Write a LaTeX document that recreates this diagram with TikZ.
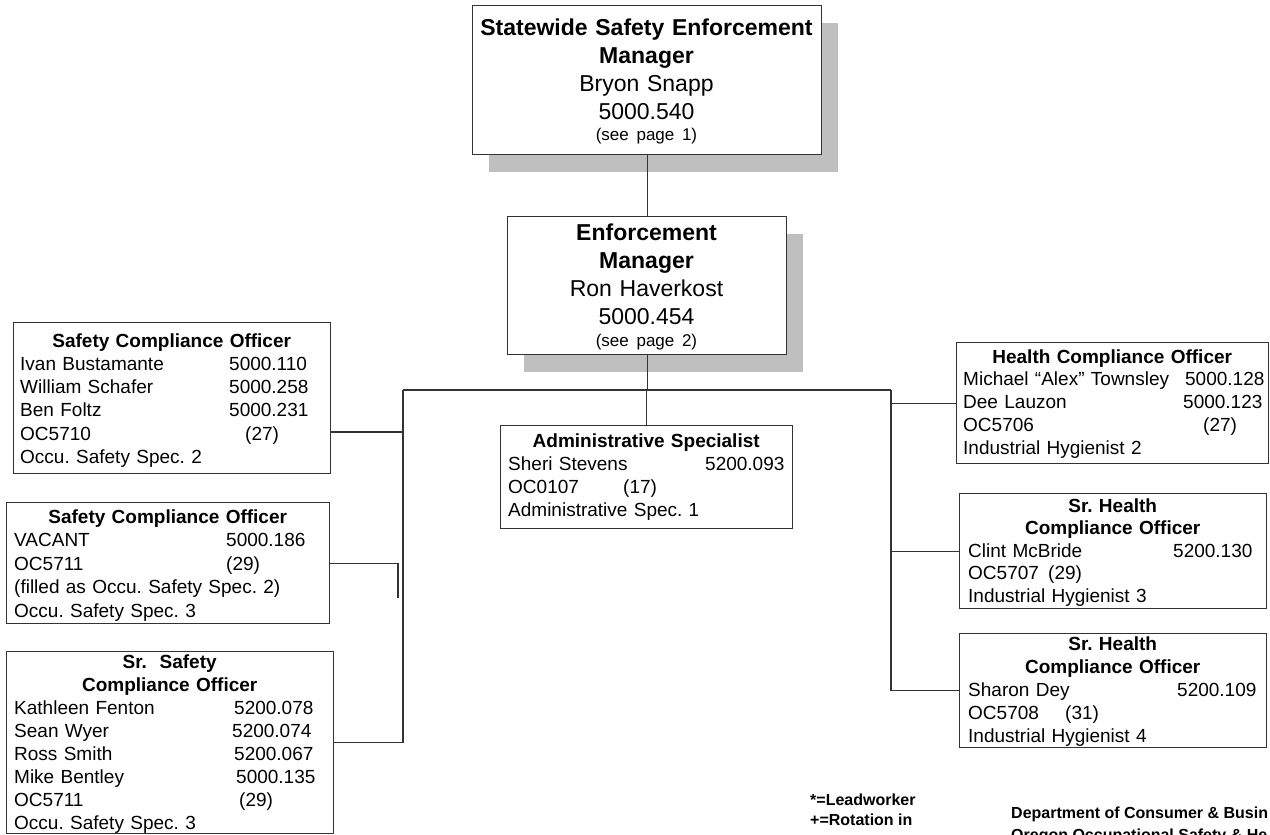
\documentclass[tikz,border=0pt]{standalone}
\usepackage{fontspec}
\setmainfont{Liberation Sans}
\usetikzlibrary{shadows}
\frenchspacing

% heading line centred across the text block
\newcommand\hd[1]{\makebox[\linewidth]{\bfseries #1}}
% name followed by a number set at a fixed column
\newcommand\pr[3]{\makebox[#1pt][l]{#2}#3}

\tikzset{
  orgbox/.style={draw=black!80, line width=1.3pt, fill=white, inner sep=0pt,
                 anchor=north west},
  raised/.style={drop shadow={shadow xshift=16pt, shadow yshift=-17pt,
                 fill=black!25, opacity=1}},
  link/.style={draw=black!80, line width=1.3pt},
  body/.style={anchor=base west, inner sep=0pt, align=left},
  title/.style={anchor=base, inner sep=0pt, align=center,
                font=\fontsize{23}{28}\selectfont},
  note/.style={anchor=base west, inner sep=0pt, font=\bfseries\fontsize{16}{21}\selectfont},
}

\begin{document}
\begin{tikzpicture}[x=1pt, y=-1pt]
\useasboundingbox (0,0) rectangle (1270,835);
\clip (0,0) rectangle (1270,835);

% ---- managers ----
\node[orgbox, raised, minimum width=349pt, minimum height=149pt] (stw) at (472,5) {};
\node[title, text width=340pt] (stwt) at (646.5,35)
  {{\bfseries Statewide Safety Enforcement}\\ {\bfseries Manager}\\ Bryon Snapp\\ 5000.540\\[-7pt]
   {\fontsize{17}{21}\selectfont (see page 1)}};

\node[orgbox, raised, minimum width=279pt, minimum height=138pt] (enf) at (507,216) {};
\node[title, text width=270pt] (enft) at (646.5,240)
  {{\bfseries Enforcement}\\ {\bfseries Manager}\\ Ron Haverkost\\ 5000.454\\[-6pt]
   {\fontsize{17}{21}\selectfont (see page 2)}};

% ---- left side ----
\node[orgbox, minimum width=317pt, minimum height=151pt] (sco1) at (13,322) {};
\node[body, text width=303pt, font=\fontsize{19}{23.3}\selectfont] (sco1t) at (20,347)
  {\hd{Safety Compliance Officer}\\
   \pr{209}{Ivan Bustamante}{5000.110}\\
   \pr{209}{William Schafer}{5000.258}\\
   \pr{209}{Ben Foltz}{5000.231}\\
   \pr{225}{OC5710}{(27)}\\
   Occu. Safety Spec. 2};

\node[orgbox, minimum width=323pt, minimum height=121pt] (vac) at (6,502) {};
\node[body, text width=307pt, font=\fontsize{19}{23.5}\selectfont] (vact) at (14,523)
  {\hd{Safety Compliance Officer}\\
   \pr{212}{VACANT}{5000.186}\\
   \pr{212}{OC5711}{(29)}\\
   (filled as Occu. Safety Spec. 2)\\
   Occu. Safety Spec. 3};

\node[orgbox, minimum width=327pt, minimum height=182pt] (srs) at (6,651) {};
\node[body, text width=311pt, font=\fontsize{19}{23}\selectfont] (srst) at (14,668)
  {\hd{Sr.\ \ Safety}\\
   \hd{Compliance Officer}\\
   \pr{220}{Kathleen Fenton}{5200.078}\\
   \pr{218}{Sean Wyer}{5200.074}\\
   \pr{220}{Ross Smith}{5200.067}\\
   \pr{222}{Mike Bentley}{5000.135}\\
   \pr{225}{OC5711}{(29)}\\
   Occu. Safety Spec. 3};

% ---- centre ----
\node[orgbox, minimum width=292pt, minimum height=103pt] (admin) at (500,425) {};
\node[body, text width=276pt, font=\fontsize{19}{23.3}\selectfont] (admint) at (508,447)
  {\hd{Administrative Specialist}\\
   \pr{197}{Sheri Stevens}{5200.093}\\
   \pr{115}{OC0107}{(17)}\\
   Administrative Spec. 1};

% ---- right side ----
\node[orgbox, minimum width=312pt, minimum height=121pt] (health) at (956,342) {};
\node[body, text width=298pt, font=\fontsize{19}{22.9}\selectfont] (healtht) at (963,363)
  {\hd{Health Compliance Officer}\\
   \pr{222}{Michael “Alex” Townsley}{5000.128}\\
   \pr{220}{Dee Lauzon}{5000.123}\\
   \pr{240}{OC5706}{(27)}\\
   Industrial Hygienist 2};

\node[orgbox, minimum width=307pt, minimum height=115pt] (srh1) at (959,493) {};
\node[body, text width=289pt, font=\fontsize{19}{22.6}\selectfont] (srh1t) at (968,512)
  {\hd{Sr. Health}\\
   \hd{Compliance Officer}\\
   \pr{205}{Clint McBride}{5200.130}\\
   \pr{80}{OC5707}{(29)}\\
   Industrial Hygienist 3};

\node[orgbox, minimum width=307pt, minimum height=114pt] (srh2) at (959,633) {};
\node[body, text width=289pt, font=\fontsize{19}{23}\selectfont] (srh2t) at (968,650)
  {\hd{Sr. Health}\\
   \hd{Compliance Officer}\\
   \pr{209}{Sharon Dey}{5200.109}\\
   \pr{97}{OC5708}{(31)}\\
   Industrial Hygienist 4};

% ---- connectors ----
\coordinate (lbus) at (403,390);
\coordinate (rbus) at (891,390);
\coordinate (lb1) at (403,432);
\coordinate (vstub) at (398,598);

\draw[link] (stw.south) -- (enf.north);
\draw[link] (enf.south) -- (enf.south |- lbus);
\draw[link] (admin.north |- lbus) -- (admin.north);
\draw[link] (lbus) -- (rbus);
\draw[link] (lbus) |- (srs.east);
\draw[link] (lb1) -- (sco1.east |- lb1);
\draw[link] (vac.east) -| (vstub);
\draw[link] (rbus) |- (srh2.west);
\draw[link] (rbus |- health.west) -- (health.west);
\draw[link] (rbus |- srh1.west) -- (srh1.west);

% ---- footer ----
\node[note] (lead) at (810,805) {*=Leadworker};
\node[note] (rot) at (810,825) {+=Rotation in};
\node[note] (dept) at (1011,818) {Department of Consumer \& Busin};
\node[note] (osha) at (1011,840) {Oregon Occupational Safety \& He};
\end{tikzpicture}
\end{document}
